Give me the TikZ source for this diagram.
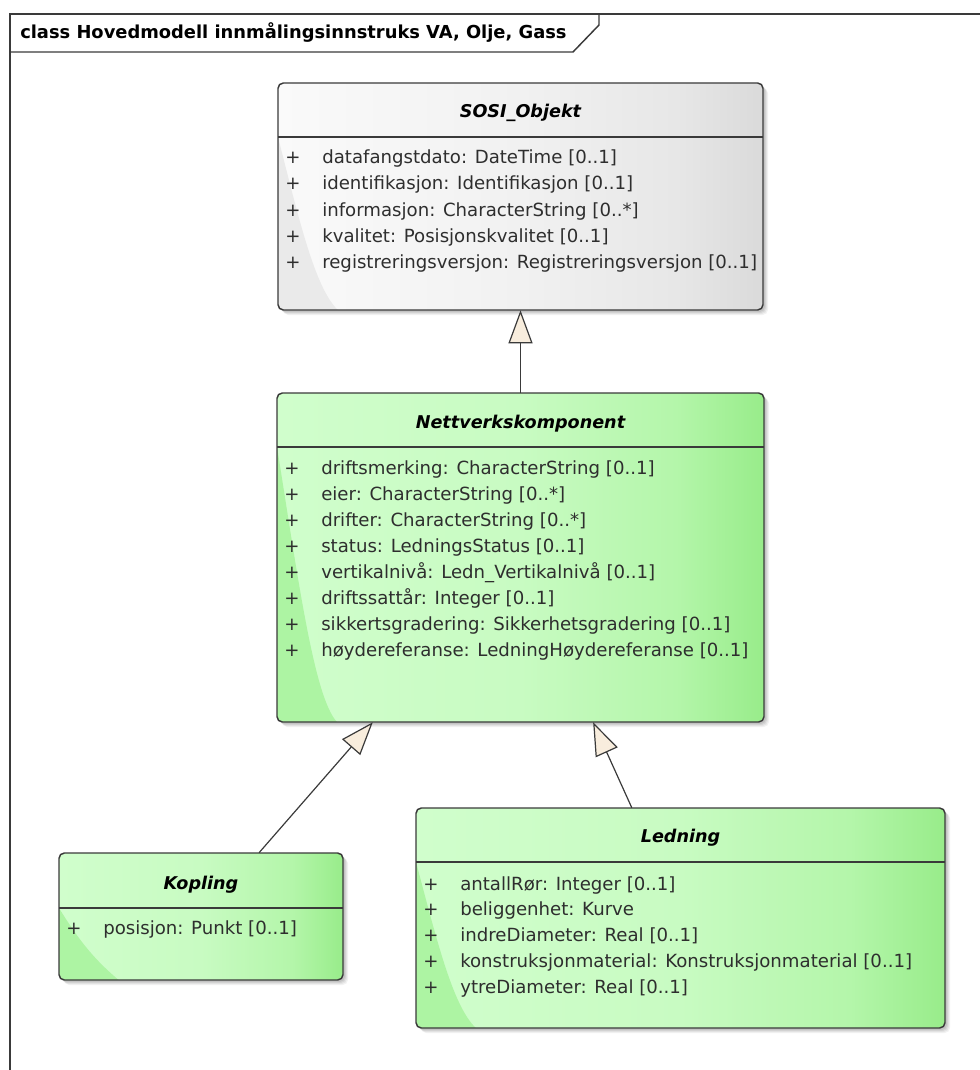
\documentclass[tikz,border=0pt]{standalone}
\usepackage{fontspec}
\setmainfont{DejaVu Sans}
\usetikzlibrary{arrows.meta,calc,fit}

\definecolor{edge}{HTML}{3A3A3A}
\definecolor{attrtext}{HTML}{2E2E2E}
\definecolor{tipfill}{HTML}{F8EDDD}
% green class body
\definecolor{gA}{HTML}{D0FECC}
\definecolor{gB}{HTML}{C8FBC2}
\definecolor{gC}{HTML}{B4F6AA}
\definecolor{gD}{HTML}{98EC8A}
\definecolor{gEdge}{HTML}{ADF4A3}
% grey class body
\definecolor{wA}{HTML}{FAFAFA}
\definecolor{wB}{HTML}{F1F1F1}
\definecolor{wC}{HTML}{E7E7E7}
\definecolor{wD}{HTML}{DADADA}
\definecolor{wEdge}{HTML}{EAEAEA}

\pgfdeclarehorizontalshading{greenbody}{100bp}{color(0bp)=(gA); color(25bp)=(gA); color(50bp)=(gB); color(66bp)=(gC); color(75bp)=(gD); color(100bp)=(gD)}
\pgfdeclarehorizontalshading{greybody}{100bp}{color(0bp)=(wA); color(25bp)=(wA); color(50bp)=(wB); color(66bp)=(wC); color(75bp)=(wD); color(100bp)=(wD)}

% #1 name, #2 shading, #3 lower-left tint, #4 x1, #5 y1, #6 x2, #7 y2, #8 header line y
\newcommand\umlclassbox[8]{%
  \foreach \s/\o in {5/0.05,4/0.06,3/0.07,2/0.08}
    \fill[black,opacity=\o,rounded corners=4] (#4+\s,#5+\s) rectangle (#6+\s,#7+\s);
  \shade[shading=#2,rounded corners=4] (#4,#5) rectangle (#6,#7);
  \begin{scope}
    \clip[rounded corners=4] (#4,#5) rectangle (#6,#7);
    \fill[#3] (#4,#8) .. controls (#4+22,#8+0.5*#7-0.5*#8) and (#4+38,#7-18) .. (#4+62,#7+2) -- (#4-2,#7+2) -- cycle;
  \end{scope}
  \draw[boxline,rounded corners=4] (#4,#5) rectangle (#6,#7);
  \draw[boxline] (#4,#8) -- (#6,#8);
  \node[fit={(#4,#5)(#6,#7)},inner sep=0pt] (#1) {};
}

\begin{document}
\begin{tikzpicture}[x=0.75pt,y=-0.75pt,
  boxline/.style={draw=edge,line width=1.1pt},
  frameline/.style={draw=edge,line width=1.1pt},
  attr/.style={font=\fontsize{13.6pt}{16pt}\selectfont,text=attrtext,inner sep=0pt},
  ctitle/.style={font=\fontsize{13.2pt}{16pt}\selectfont\bfseries\itshape,inner sep=0pt,anchor=base},
  ftitle/.style={font=\fontsize{13.4pt}{15pt}\selectfont\bfseries,inner sep=0pt,anchor=base west},
  gen/.style={draw=edge,line width=0.9pt,line join=miter,
    -{Triangle[length=24.75pt,width=18pt,fill=tipfill]}}]

\useasboundingbox (0,0) rectangle (980,1070);

% diagram frame with its name tab
\draw[frameline] (10,1070) -- (10,14) -- (980,14);
\draw[frameline] (10,52) -- (573,52) -- (599,25) -- (599,14);
\node[ftitle] (frametitle) at (20,38.5) {class Hovedmodell innmålingsinnstruks VA, Olje, Gass};

% SOSI_Objekt
\umlclassbox{sosi}{greybody}{wEdge}{278}{83}{763}{310}{137}
\node[ctitle] (sosi-title) at (520.5,118) {SOSI\_Objekt};
\foreach \i/\yy/\txt in {1/164/{datafangstdato: DateTime [0..1]},
                          2/190/{identifikasjon: Identifikasjon [0..1]},
                          3/216/{informasjon: CharacterString [0..*]},
                          4/242/{kvalitet: Posisjonskvalitet [0..1]},
                          5/268/{registreringsversjon: Registreringsversjon [0..1]}}{
  \node[attr,anchor=base] (sosi-p\i) at (293,\yy) {+};
  \node[attr,anchor=base west] (sosi-a\i) at (322,\yy) {\txt};
}

% Nettverkskomponent
\umlclassbox{nett}{greenbody}{gEdge}{277}{393}{764}{722}{447}
\node[ctitle] (nett-title) at (520.5,428) {Nettverkskomponent};
\foreach \i/\yy/\txt in {1/474/{driftsmerking: CharacterString [0..1]},
                          2/500/{eier: CharacterString [0..*]},
                          3/526/{drifter: CharacterString [0..*]},
                          4/552/{status: LedningsStatus [0..1]},
                          5/578/{vertikalnivå: Ledn\_Vertikalnivå [0..1]},
                          6/604/{driftssattår: Integer [0..1]},
                          7/630/{sikkertsgradering: Sikkerhetsgradering [0..1]},
                          8/656/{høydereferanse: LedningHøydereferanse [0..1]}}{
  \node[attr,anchor=base] (nett-p\i) at (292,\yy) {+};
  \node[attr,anchor=base west] (nett-a\i) at (321,\yy) {\txt};
}

% Kopling
\umlclassbox{kop}{greenbody}{gEdge}{59}{853}{343}{980}{908}
\node[ctitle] (kop-title) at (201,889) {Kopling};
\node[attr,anchor=base] (kop-p1) at (74,934) {+};
\node[attr,anchor=base west] (kop-a1) at (103,934) {posisjon: Punkt [0..1]};

% Ledning
\umlclassbox{led}{greenbody}{gEdge}{416}{808}{945}{1028}{862}
\node[ctitle] (led-title) at (680.5,842) {Ledning};
\foreach \i/\yy/\txt in {1/890/{antallRør: Integer [0..1]},
                          2/915/{beliggenhet: Kurve},
                          3/941/{indreDiameter: Real [0..1]},
                          4/967/{konstruksjonmaterial: Konstruksjonmaterial [0..1]},
                          5/993/{ytreDiameter: Real [0..1]}}{
  \node[attr,anchor=base] (led-p\i) at (431,\yy) {+};
  \node[attr,anchor=base west] (led-a\i) at (460,\yy) {\txt};
}

% generalisations
\draw[gen] (nett.north) -- (sosi.south);
\draw[gen] ($(kop.north west)!0.704!(kop.north east)$) -- ($(nett.south west)!0.197!(nett.south east)$);
\draw[gen] ($(led.north west)!0.408!(led.north east)$) -- ($(nett.south west)!0.649!(nett.south east)$);

\end{tikzpicture}
\end{document}
